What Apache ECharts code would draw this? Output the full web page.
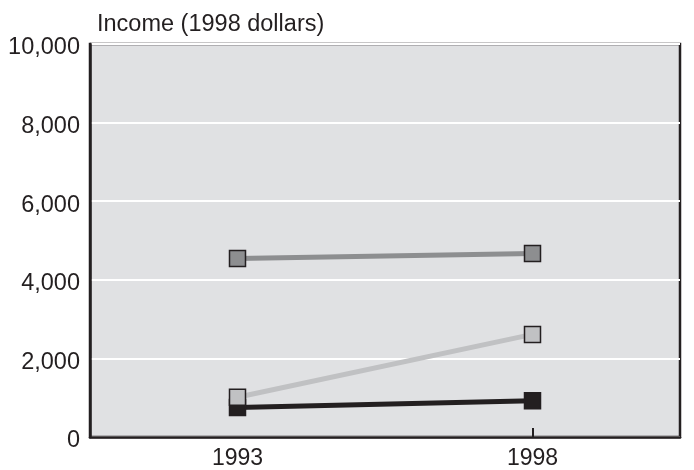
<!DOCTYPE html>
<html><head><meta charset="utf-8">
<script src="https://cdn.jsdelivr.net/npm/echarts@6/dist/echarts.min.js"></script>
<style>html,body{margin:0;padding:0;background:#fff}#c{width:694px;height:470px}</style>
</head><body><div id="c"></div>
<script>
const categories = ['1993', '1998'];
const darkSeries = [4540, 4670];
const lightSeries = [1010, 2610];
const blackSeries = [750, 920];
const yTicks = [0, 2000, 4000, 6000, 8000, 10000];
const yTitle = 'Income (1998 dollars)';

const FONT = '"Liberation Sans", Arial, Helvetica, sans-serif';
const chart = echarts.init(document.getElementById('c'), null, {renderer: 'canvas'});
function mk(name, data, line, fill) {
  return {
    name, type: 'line', data,
    symbol: 'rect', symbolSize: 16,
    lineStyle: {color: line, width: 5},
    itemStyle: {color: fill, borderColor: '#231f20', borderWidth: 1.5},
    emphasis: {disabled: true},
    animation: false
  };
}
chart.setOption({
  animation: false,
  grid: {left: 90, right: 14, top: 44, bottom: 31, show: true,
         backgroundColor: '#e0e1e3', borderColor: '#231f20', borderWidth: 2.5},
  title: {text: yTitle, left: 92, top: 8,
          textStyle: {fontFamily: FONT, fontSize: 23.5, fontWeight: 'normal', color: '#231f20'}},
  xAxis: {
    type: 'category', data: categories, boundaryGap: true,
    axisLine: {show: true, lineStyle: {color: '#231f20', width: 2.5}},
    axisTick: {show: true, inside: true, alignWithLabel: true, length: 9,
               interval: (i) => i === 1, lineStyle: {color: '#231f20', width: 2}},
    axisLabel: {fontFamily: FONT, fontSize: 23, color: '#231f20', margin: 10},
    splitLine: {show: false}
  },
  yAxis: {
    type: 'value', min: yTicks[0], max: yTicks[yTicks.length - 1], interval: 2000,
    axisLine: {show: true, lineStyle: {color: '#231f20', width: 2.5}},
    axisTick: {show: false},
    axisLabel: {fontFamily: FONT, fontSize: 23.5, color: '#231f20', margin: 10,
                formatter: (v) => v.toLocaleString('en-US'),
                verticalAlign: 'top', lineHeight: 8},
    splitLine: {show: true, lineStyle: {color: '#ffffff', width: 2}}
  },
  series: [
    mk('Black', blackSeries, '#231f20', '#231f20'),
    mk('Light', lightSeries, '#c0c1c3', '#c0c1c3'),
    mk('Dark', darkSeries, '#8d8e90', '#8d8e90')
  ]
});
</script></body></html>
